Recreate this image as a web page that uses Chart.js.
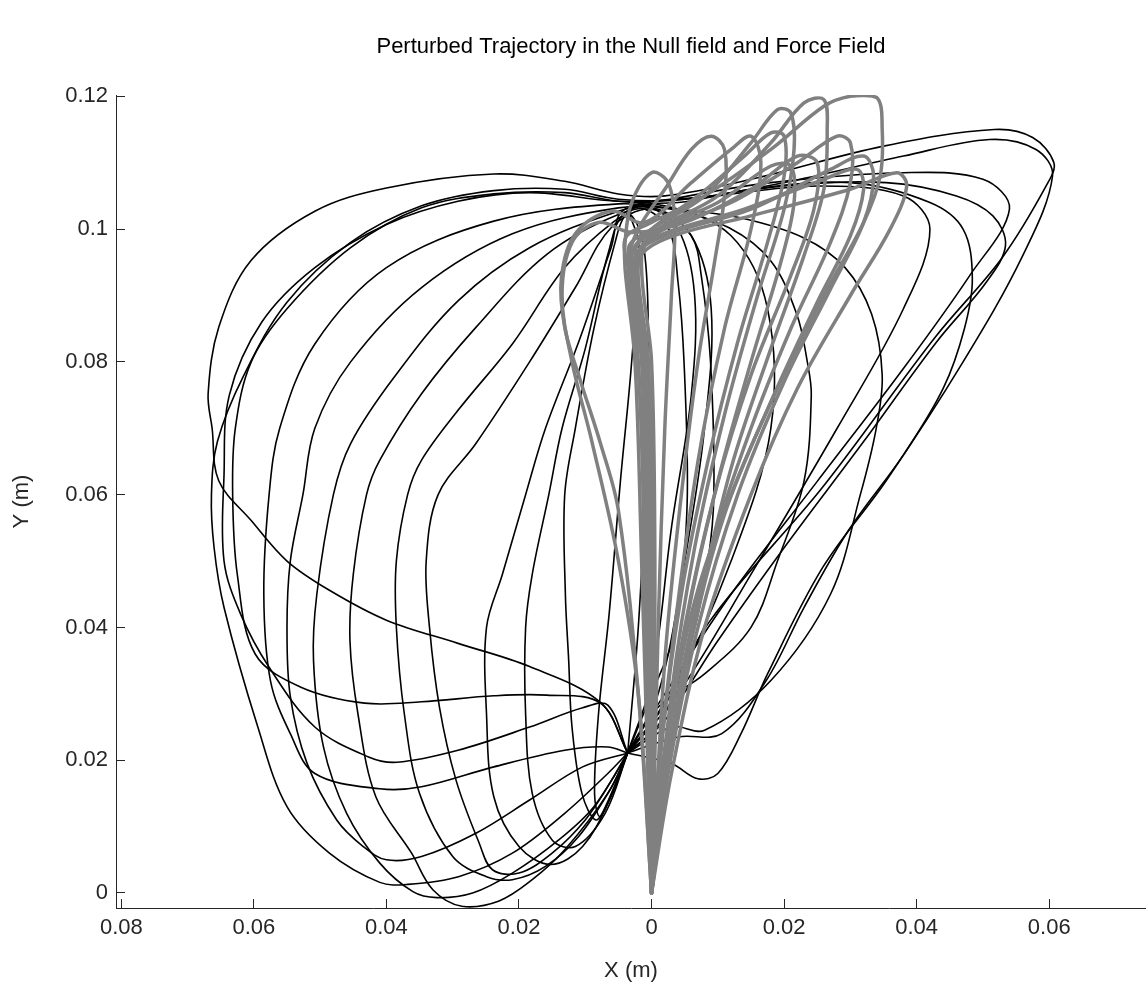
<!DOCTYPE html>
<html>
<head>
<meta charset="utf-8">
<title>Perturbed Trajectory</title>
<script src="https://cdn.jsdelivr.net/npm/chart.js@4.4.1/dist/chart.umd.min.js"></script>
<style>
    html, body { margin: 0; padding: 0; background: #ffffff; }
    #trajectoryChart { display: block; }
</style>
</head>
<body>
<canvas id="trajectoryChart" width="1146" height="989"></canvas>
<script>
/* ===================================
   PERTURBED TRAJECTORIES - X/Y (m)
   =================================== */

const CHART_TITLE = 'Perturbed Trajectory in the Null field and Force Field';
const X_LABEL = 'X (m)';
const Y_LABEL = 'Y (m)';

const X_RANGE = [-0.0808, 0.0746];
const Y_RANGE = [-0.00226, 0.1202];
const X_TICKS = [-0.08, -0.06, -0.04, -0.02, 0, 0.02, 0.04, 0.06];
const X_TICK_LABELS = ['0.08', '0.06', '0.04', '0.02', '0', '0.02', '0.04', '0.06'];
const Y_TICKS = [0, 0.02, 0.04, 0.06, 0.08, 0.1, 0.12];
const Y_TICK_LABELS = ['0', '0.02', '0.04', '0.06', '0.08', '0.1', '0.12'];

// force field trials (black), [x, y] in metres
const forceTrial1 = [[-0.0036,0.0211],[0.0009,0.0270],[0.0089,0.0411],[0.0258,0.0611],[0.0427,0.0836],[0.0529,0.0957],[0.0597,0.1068],[0.0607,0.1100],[0.0575,0.1138],[0.0517,0.1150],[0.0350,0.1125],[0.0150,0.1075],[0.0020,0.1050],[-0.0050,0.1053],[-0.0131,0.1072],[-0.0238,0.1083],[-0.0400,0.1062],[-0.0508,0.1027],[-0.0604,0.0953],[-0.0653,0.0852],[-0.0669,0.0752],[-0.0663,0.0700],[-0.0653,0.0621],[-0.0604,0.0561],[-0.0550,0.0500],[-0.0486,0.0456],[-0.0400,0.0411],[-0.0292,0.0376],[-0.0184,0.0341],[-0.0077,0.0287],[-0.0036,0.0211]];
const forceTrial2 = [[-0.0036,0.0211],[0.0030,0.0195],[0.0070,0.0172],[0.0100,0.0180],[0.0135,0.0240],[0.0175,0.0330],[0.0258,0.0490],[0.0354,0.0621],[0.0470,0.0800],[0.0560,0.0960],[0.0605,0.1080],[0.0580,0.1120],[0.0510,0.1135],[0.0380,0.1110],[0.0200,0.1070],[0.0050,0.1045],[-0.0050,0.1045],[-0.0131,0.1060],[-0.0238,0.1058],[-0.0347,0.1035],[-0.0454,0.0980],[-0.0550,0.0890],[-0.0615,0.0780],[-0.0655,0.0680],[-0.0664,0.0600],[-0.0660,0.0520],[-0.0645,0.0430],[-0.0594,0.0250],[-0.0550,0.0130],[-0.0486,0.0060],[-0.0410,0.0016],[-0.0368,0.0013],[-0.0290,0.0025],[-0.0210,0.0060],[-0.0131,0.0120],[-0.0066,0.0180],[-0.0036,0.0211]];
const forceTrial3 = [[-0.0036,0.0211],[0.0020,0.0260],[0.0100,0.0380],[0.0200,0.0520],[0.0320,0.0680],[0.0430,0.0830],[0.0505,0.0920],[0.0534,0.0975],[0.0515,0.1020],[0.0460,0.1050],[0.0354,0.1070],[0.0200,0.1065],[0.0050,0.1045],[-0.0050,0.1042],[-0.0184,0.1055],[-0.0292,0.1042],[-0.0400,0.1007],[-0.0508,0.0942],[-0.0588,0.0860],[-0.0637,0.0750],[-0.0645,0.0630],[-0.0645,0.0500],[-0.0620,0.0420],[-0.0577,0.0340],[-0.0508,0.0250],[-0.0427,0.0205],[-0.0384,0.0197],[-0.0292,0.0215],[-0.0184,0.0250],[-0.0104,0.0279],[-0.0066,0.0283],[-0.0036,0.0211]];
const forceTrial4 = [[-0.0036,0.0211],[0.0040,0.0235],[0.0106,0.0240],[0.0173,0.0320],[0.0230,0.0430],[0.0297,0.0546],[0.0380,0.0660],[0.0440,0.0760],[0.0472,0.0850],[0.0484,0.0926],[0.0470,0.1000],[0.0420,0.1040],[0.0300,0.1070],[0.0150,0.1060],[0.0040,0.1040],[-0.0050,0.1042],[-0.0131,0.1055],[-0.0238,0.1053],[-0.0347,0.1032],[-0.0454,0.0972],[-0.0550,0.0880],[-0.0604,0.0800],[-0.0628,0.0700],[-0.0632,0.0600],[-0.0625,0.0480],[-0.0598,0.0360],[-0.0529,0.0310],[-0.0433,0.0286],[-0.0347,0.0288],[-0.0238,0.0297],[-0.0158,0.0298],[-0.0077,0.0286],[-0.0036,0.0211]];
const forceTrial5 = [[-0.0036,0.0211],[0.0030,0.0250],[0.0080,0.0245],[0.0180,0.0320],[0.0270,0.0450],[0.0315,0.0600],[0.0339,0.0700],[0.0348,0.0780],[0.0332,0.0872],[0.0292,0.0942],[0.0229,0.0987],[0.0134,0.1017],[0.0040,0.1030],[-0.0050,0.1038],[-0.0238,0.1012],[-0.0400,0.0942],[-0.0508,0.0827],[-0.0561,0.0700],[-0.0577,0.0600],[-0.0585,0.0450],[-0.0575,0.0320],[-0.0545,0.0240],[-0.0508,0.0180],[-0.0410,0.0157],[-0.0347,0.0160],[-0.0238,0.0190],[-0.0131,0.0215],[-0.0066,0.0220],[-0.0036,0.0211]];
const forceTrial6 = [[-0.0036,0.0211],[0.0010,0.0280],[0.0080,0.0330],[0.0150,0.0400],[0.0190,0.0500],[0.0230,0.0620],[0.0241,0.0750],[0.0235,0.0800],[0.0219,0.0872],[0.0180,0.0952],[0.0117,0.1002],[0.0030,0.1030],[-0.0050,0.1032],[-0.0210,0.0993],[-0.0347,0.0912],[-0.0454,0.0800],[-0.0508,0.0700],[-0.0526,0.0600],[-0.0545,0.0500],[-0.0550,0.0400],[-0.0545,0.0296],[-0.0520,0.0196],[-0.0475,0.0110],[-0.0435,0.0070],[-0.0400,0.0050],[-0.0347,0.0055],[-0.0265,0.0090],[-0.0184,0.0140],[-0.0104,0.0190],[-0.0036,0.0211]];
const forceTrial7 = [[-0.0036,0.0211],[0.0000,0.0300],[0.0032,0.0380],[0.0044,0.0450],[0.0054,0.0600],[0.0049,0.0800],[0.0040,0.0920],[0.0026,0.1000],[-0.0010,0.1030],[-0.0050,0.1027],[-0.0184,0.0972],[-0.0292,0.0892],[-0.0389,0.0776],[-0.0454,0.0677],[-0.0480,0.0600],[-0.0505,0.0450],[-0.0510,0.0350],[-0.0495,0.0220],[-0.0460,0.0120],[-0.0410,0.0045],[-0.0360,0.0002],[-0.0324,-0.0007],[-0.0270,0.0000],[-0.0210,0.0030],[-0.0140,0.0080],[-0.0087,0.0130],[-0.0036,0.0211]];
const forceTrial8 = [[-0.0036,0.0211],[0.0015,0.0260],[0.0060,0.0380],[0.0085,0.0500],[0.0094,0.0600],[0.0089,0.0800],[0.0075,0.0930],[0.0060,0.0990],[0.0010,0.1030],[-0.0050,0.1022],[-0.0158,0.0962],[-0.0265,0.0852],[-0.0347,0.0752],[-0.0410,0.0652],[-0.0430,0.0600],[-0.0450,0.0480],[-0.0455,0.0380],[-0.0443,0.0270],[-0.0416,0.0145],[-0.0362,0.0060],[-0.0330,0.0005],[-0.0286,-0.0020],[-0.0230,-0.0012],[-0.0180,0.0020],[-0.0131,0.0065],[-0.0066,0.0150],[-0.0036,0.0211]];
const forceTrial9 = [[-0.0036,0.0211],[-0.0020,0.0400],[-0.0010,0.0600],[-0.0005,0.0800],[-0.0010,0.0960],[-0.0030,0.1020],[-0.0056,0.1012],[-0.0131,0.0942],[-0.0210,0.0827],[-0.0292,0.0727],[-0.0347,0.0652],[-0.0368,0.0600],[-0.0385,0.0500],[-0.0385,0.0400],[-0.0373,0.0270],[-0.0350,0.0150],[-0.0300,0.0055],[-0.0250,0.0025],[-0.0210,0.0020],[-0.0160,0.0040],[-0.0110,0.0085],[-0.0060,0.0160],[-0.0036,0.0211]];
const forceTrial10 = [[-0.0036,0.0211],[0.0010,0.0300],[0.0050,0.0500],[0.0080,0.0700],[0.0090,0.0880],[0.0060,0.0990],[0.0000,0.1030],[-0.0061,0.1002],[-0.0115,0.0912],[-0.0184,0.0800],[-0.0265,0.0677],[-0.0322,0.0600],[-0.0340,0.0500],[-0.0335,0.0400],[-0.0320,0.0280],[-0.0295,0.0170],[-0.0260,0.0075],[-0.0240,0.0035],[-0.0200,0.0030],[-0.0150,0.0060],[-0.0100,0.0110],[-0.0060,0.0170],[-0.0036,0.0211]];
const forceTrial11 = [[-0.0036,0.0211],[0.0040,0.0300],[0.0150,0.0480],[0.0280,0.0700],[0.0380,0.0880],[0.0420,0.1000],[0.0380,0.1050],[0.0250,0.1065],[0.0100,0.1050],[-0.0040,0.1030],[-0.0061,0.0972],[-0.0110,0.0830],[-0.0160,0.0700],[-0.0190,0.0600],[-0.0225,0.0480],[-0.0249,0.0400],[-0.0249,0.0270],[-0.0238,0.0145],[-0.0200,0.0070],[-0.0152,0.0043],[-0.0104,0.0070],[-0.0061,0.0145],[-0.0036,0.0211]];
const forceTrial12 = [[-0.0036,0.0211],[0.0030,0.0300],[0.0120,0.0500],[0.0180,0.0700],[0.0175,0.0880],[0.0120,0.0990],[0.0020,0.1035],[-0.0040,0.1025],[-0.0065,0.0965],[-0.0100,0.0820],[-0.0135,0.0700],[-0.0155,0.0600],[-0.0180,0.0480],[-0.0190,0.0400],[-0.0190,0.0270],[-0.0180,0.0150],[-0.0150,0.0080],[-0.0115,0.0070],[-0.0070,0.0120],[-0.0036,0.0211]];
const forceTrial13 = [[-0.0036,0.0211],[0.0000,0.0320],[0.0030,0.0550],[0.0060,0.0750],[0.0065,0.0900],[0.0040,0.1000],[-0.0010,0.1035],[-0.0040,0.1020],[-0.0055,0.0980],[-0.0087,0.0850],[-0.0115,0.0700],[-0.0131,0.0600],[-0.0130,0.0450],[-0.0125,0.0350],[-0.0120,0.0250],[-0.0105,0.0150],[-0.0084,0.0110],[-0.0065,0.0140],[-0.0036,0.0211]];
const forceTrial14 = [[-0.0036,0.0211],[0.0020,0.0300],[0.0120,0.0450],[0.0250,0.0620],[0.0380,0.0790],[0.0480,0.0930],[0.0540,0.1030],[0.0500,0.1075],[0.0380,0.1085],[0.0180,0.1070],[0.0030,0.1045],[-0.0030,0.1030],[-0.0019,0.0978],[-0.0030,0.0800],[-0.0047,0.0620],[-0.0064,0.0420],[-0.0080,0.0270],[-0.0086,0.0150],[-0.0078,0.0115],[-0.0060,0.0150],[-0.0036,0.0211]];

// null field trials (grey), [x, y] in metres
const nullTrial1 = [[0,0],[-0.0004,0.0150],[-0.0010,0.0400],[-0.0015,0.0700],[-0.0030,0.0920],[-0.0040,0.0985],[0.0000,0.1010],[0.0080,0.1050],[0.0180,0.1120],[0.0260,0.1185],[0.0300,0.1200],[0.0340,0.1198],[0.0348,0.1150],[0.0345,0.1080],[0.0320,0.1010],[0.0260,0.0900],[0.0190,0.0760],[0.0120,0.0600],[0.0060,0.0420],[0.0020,0.0200],[0,0]];
const nullTrial2 = [[0,0],[0.0000,0.0200],[0.0000,0.0500],[-0.0005,0.0800],[-0.0020,0.0960],[0.0010,0.1000],[0.0100,0.1050],[0.0180,0.1130],[0.0230,0.1190],[0.0260,0.1195],[0.0265,0.1150],[0.0260,0.1060],[0.0230,0.0960],[0.0180,0.0820],[0.0120,0.0640],[0.0070,0.0430],[0.0025,0.0200],[0,0]];
const nullTrial3 = [[0,0],[-0.0005,0.0200],[-0.0008,0.0500],[-0.0015,0.0800],[-0.0035,0.0970],[0.0000,0.1000],[0.0080,0.1050],[0.0150,0.1130],[0.0190,0.1180],[0.0210,0.1175],[0.0215,0.1120],[0.0200,0.1030],[0.0160,0.0900],[0.0110,0.0720],[0.0065,0.0520],[0.0030,0.0300],[0,0]];
const nullTrial4 = [[0,0],[0.0003,0.0200],[0.0005,0.0500],[0.0000,0.0800],[-0.0015,0.0960],[0.0010,0.0995],[0.0120,0.1040],[0.0220,0.1100],[0.0280,0.1140],[0.0300,0.1130],[0.0300,0.1070],[0.0270,0.0980],[0.0210,0.0850],[0.0150,0.0700],[0.0090,0.0520],[0.0040,0.0300],[0,0]];
const nullTrial5 = [[0,0],[-0.0002,0.0200],[-0.0003,0.0500],[-0.0010,0.0800],[-0.0025,0.0955],[0.0020,0.0990],[0.0150,0.1030],[0.0270,0.1090],[0.0320,0.1110],[0.0335,0.1080],[0.0320,0.1010],[0.0270,0.0910],[0.0200,0.0770],[0.0130,0.0600],[0.0070,0.0400],[0.0025,0.0180],[0,0]];
const nullTrial6 = [[0,0],[0.0002,0.0200],[0.0002,0.0500],[-0.0005,0.0800],[-0.0020,0.0950],[0.0020,0.0985],[0.0150,0.1020],[0.0300,0.1060],[0.0370,0.1085],[0.0385,0.1065],[0.0360,0.1000],[0.0300,0.0900],[0.0220,0.0760],[0.0150,0.0600],[0.0080,0.0400],[0.0030,0.0180],[0,0]];
const nullTrial7 = [[0,0],[-0.0003,0.0200],[-0.0005,0.0500],[-0.0012,0.0800],[-0.0030,0.0960],[0.0000,0.1000],[0.0070,0.1050],[0.0140,0.1110],[0.0180,0.1145],[0.0200,0.1140],[0.0200,0.1080],[0.0175,0.0980],[0.0130,0.0830],[0.0085,0.0650],[0.0045,0.0450],[0.0015,0.0220],[0,0]];
const nullTrial8 = [[0,0],[-0.0005,0.0200],[-0.0010,0.0500],[-0.0020,0.0800],[-0.0035,0.0950],[-0.0020,0.1000],[0.0020,0.1060],[0.0060,0.1120],[0.0090,0.1140],[0.0110,0.1120],[0.0110,0.1050],[0.0095,0.0950],[0.0070,0.0800],[0.0045,0.0600],[0.0020,0.0350],[0,0]];
const nullTrial9 = [[0,0],[-0.0006,0.0200],[-0.0015,0.0500],[-0.0025,0.0800],[-0.0040,0.0940],[-0.0040,0.0980],[-0.0030,0.1040],[0.0000,0.1085],[0.0025,0.1070],[0.0035,0.1010],[0.0030,0.0900],[0.0020,0.0700],[0.0010,0.0400],[0,0]];
const nullTrial10 = [[0,0],[0.0000,0.0200],[-0.0002,0.0500],[-0.0008,0.0800],[-0.0025,0.0965],[0.0000,0.0995],[0.0100,0.1040],[0.0180,0.1095],[0.0210,0.1095],[0.0215,0.1040],[0.0195,0.0950],[0.0150,0.0800],[0.0100,0.0620],[0.0055,0.0420],[0.0020,0.0200],[0,0]];
const nullTrial11 = [[0,0],[0.0001,0.0200],[0.0001,0.0500],[-0.0006,0.0800],[-0.0022,0.0960],[0.0010,0.0990],[0.0140,0.1030],[0.0260,0.1075],[0.0310,0.1090],[0.0320,0.1060],[0.0300,0.0990],[0.0250,0.0890],[0.0180,0.0740],[0.0110,0.0570],[0.0060,0.0380],[0.0020,0.0170],[0,0]];
const nullTrial12 = [[0,0],[-0.0020,0.0300],[-0.0050,0.0576],[-0.0077,0.0677],[-0.0109,0.0777],[-0.0131,0.0852],[-0.0136,0.0927],[-0.0115,0.0993],[-0.0061,0.1027],[-0.0010,0.1010],[0.0060,0.1070],[0.0120,0.1120],[0.0150,0.1140],[0.0165,0.1100],[0.0150,0.1000],[0.0110,0.0850],[0.0070,0.0650],[0.0035,0.0400],[0.0010,0.0180],[0,0]];
const nullTrial13 = [[0,0],[-0.0020,0.0300],[-0.0050,0.0500],[-0.0090,0.0680],[-0.0120,0.0800],[-0.0135,0.0900],[-0.0120,0.0980],[-0.0080,0.1010],[-0.0030,0.0995],[0.0050,0.1010],[0.0150,0.1060],[0.0220,0.1110],[0.0250,0.1100],[0.0245,0.1030],[0.0210,0.0930],[0.0150,0.0780],[0.0095,0.0600],[0.0050,0.0400],[0.0015,0.0180],[0,0]];

const FORCE_TRIALS = [forceTrial1, forceTrial2, forceTrial3, forceTrial4, forceTrial5, forceTrial6, forceTrial7,
    forceTrial8, forceTrial9, forceTrial10, forceTrial11, forceTrial12, forceTrial13, forceTrial14];
const NULL_TRIALS = [nullTrial1, nullTrial2, nullTrial3, nullTrial4, nullTrial5, nullTrial6, nullTrial7,
    nullTrial8, nullTrial9, nullTrial10, nullTrial11, nullTrial12, nullTrial13];

const FONT_FAMILY = "'Liberation Sans', Arial, Helvetica, sans-serif";
const AXIS_COLOR = '#262626';

function createTrajectory(points, color, width, order) {
    return {
        data: points.map(([x, y]) => ({ x, y })),
        showLine: true,
        borderColor: color,
        borderWidth: width,
        borderJoinStyle: 'round',
        borderCapStyle: 'round',
        tension: 0.35,
        pointRadius: 0,
        pointHoverRadius: 0,
        fill: false,
        order
    };
}

function buildAxis(range, ticks, labels, fitSize, isX, title) {
    return {
        type: 'linear',
        min: range[0],
        max: range[1],
        afterFit: scale => {
            if (isX) scale.height = fitSize;
            else scale.width = fitSize;
        },
        afterBuildTicks: scale => {
            scale.ticks = ticks.map(value => ({ value }));
        },
        border: { display: true, color: AXIS_COLOR, width: 1 },
        grid: {
            drawOnChartArea: false,
            drawTicks: true,
            tickLength: -9,   // ticks point into the plot
            color: AXIS_COLOR,
            lineWidth: 1
        },
        ticks: {
            color: AXIS_COLOR,
            autoSkip: false,
            maxRotation: 0,
            minRotation: 0,
            padding: isX ? 15.5 : 17,
            font: { family: FONT_FAMILY, size: 22 },
            callback: (value, index) => labels[index]
        },
        title: {
            display: true,
            text: title,
            color: AXIS_COLOR,
            font: { family: FONT_FAMILY, size: 22 },
            padding: isX ? { top: 0, bottom: 5 } : { top: 9, bottom: 0 }
        }
    };
}

const datasets = [
    ...NULL_TRIALS.map(points => createTrajectory(points, '#808080', 3.5, 0)),
    ...FORCE_TRIALS.map(points => createTrajectory(points, '#000000', 1.6, 1))
];

new Chart(document.getElementById('trajectoryChart').getContext('2d'), {
    type: 'scatter',
    data: { datasets },
    options: {
        responsive: false,
        animation: false,
        devicePixelRatio: 1,
        layout: { padding: 0 },
        plugins: {
            legend: { display: false },
            tooltip: { enabled: false },
            title: {
                display: true,
                fullSize: false,   // centre over the axes, not the canvas
                text: CHART_TITLE,
                color: '#000000',
                font: { family: FONT_FAMILY, size: 22, weight: 'normal' },
                padding: { top: 34, bottom: 34.6 }
            }
        },
        scales: {
            x: buildAxis(X_RANGE, X_TICKS, X_TICK_LABELS, 81, true, X_LABEL),
            y: buildAxis(Y_RANGE, Y_TICKS, Y_TICK_LABELS, 116, false, Y_LABEL)
        }
    }
});
</script>
</body>
</html>
